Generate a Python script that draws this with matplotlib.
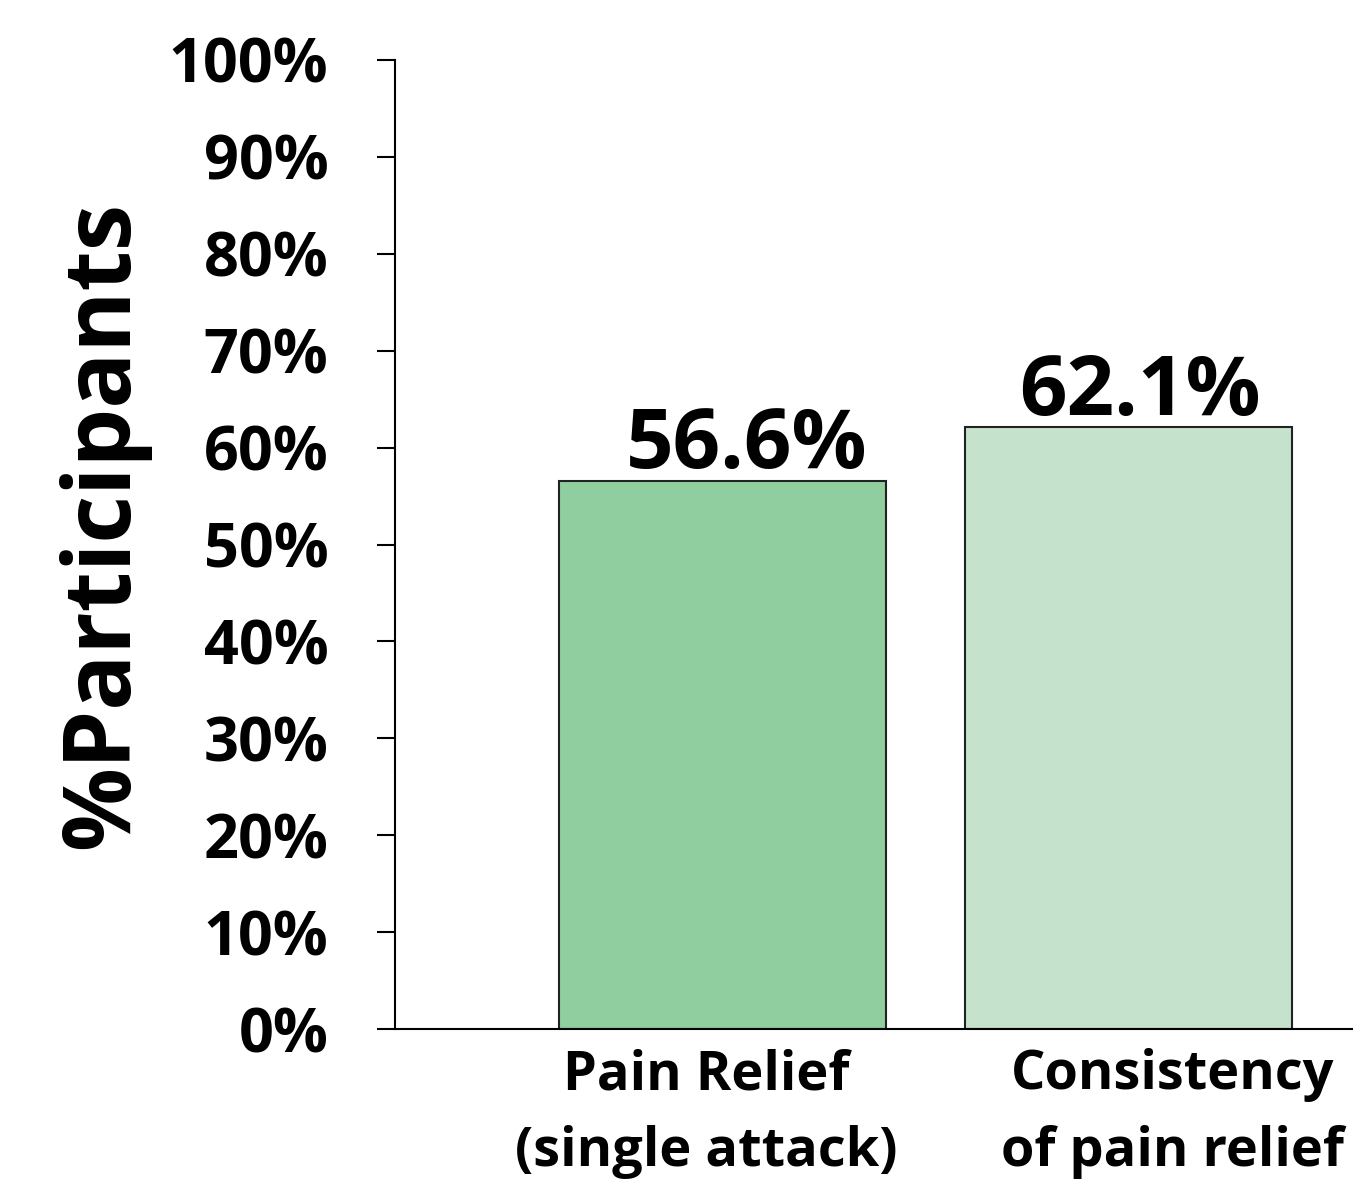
import matplotlib
matplotlib.use('Agg')
import matplotlib.pyplot as plt
import numpy as np

categories = ['Pain Relief\n(single attack)', 'Consistency\nof pain relief']
values = [56.6, 62.1]
bar_colors = ['#90CE9F', '#C5E3CC']
yticks = list(range(0, 101, 10))

plt.rcParams['font.family'] = ['Open Sans', 'DejaVu Sans']

fig = plt.figure(figsize=(13.63, 11.85), dpi=100)
ax = fig.add_axes([0.2898, 0.1316, 0.7022, 0.8178])

x = np.arange(len(categories))
bars = ax.bar(x, values, width=0.806, color=bar_colors, edgecolor='#222222', linewidth=1.5)
# value labels sit slightly right of bar centre, as in the original
value_shift = [0.06, 0.03]
for xi, v, dx in zip(x, values, value_shift):
    ax.text(xi + dx, v - 0.8, '{:.1f}%'.format(v), ha='center', va='bottom',
            fontsize=60, fontweight='bold')

ax.set_xlim(-0.808, 1.552)
ax.set_ylim(0, 100)
ax.set_yticks(yticks)
ax.set_yticklabels(['{}%'.format(t) for t in yticks], fontsize=44, fontweight='bold')
# category labels are not centred on the bars in the original
label_shift = [-0.04, 0.11]
ax.set_xticks(x + np.array(label_shift))
ax.set_xticklabels(categories, fontsize=39, fontweight='bold', linespacing=1.55)
ax.tick_params(axis='y', length=13, width=1.5, pad=35)
ax.tick_params(axis='x', length=0, pad=14)
ax.set_ylabel('%Participants', fontsize=67, fontweight='bold')
ax.yaxis.set_label_coords(-0.256, 0.52)
for s in ['top', 'right']:
    ax.spines[s].set_visible(False)
ax.spines['left'].set_linewidth(1.5)
ax.spines['bottom'].set_linewidth(1.5)

fig.savefig('out.png', dpi=100)
